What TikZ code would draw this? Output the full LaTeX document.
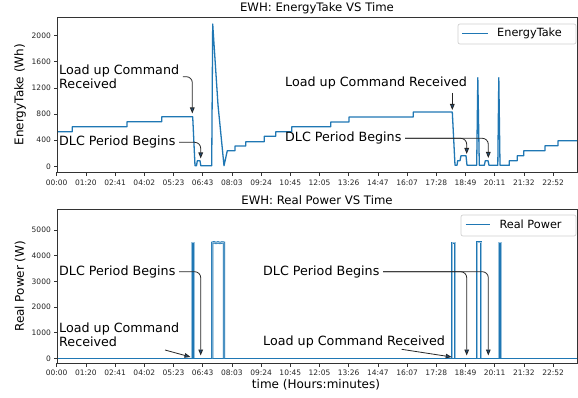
\documentclass[tikz,border=0pt]{standalone}
\usepackage{fontspec}
\setmainfont{DejaVu Sans}
\usetikzlibrary{arrows.meta}
\definecolor{c0}{HTML}{1F77B4}
\definecolor{arrfill}{HTML}{1F4E79}
\begin{document}
\begin{tikzpicture}[x=1pt,y=-1pt,
  ann/.style={font=\fontsize{12.7}{13.5}\selectfont, inner sep=0pt, anchor=west, align=left},
  ticklab/.style={font=\fontsize{7.5}{9}\selectfont, inner sep=0pt, text=black!85},
  ttl/.style={font=\fontsize{11.7}{13}\selectfont, inner sep=0pt},
  axlab/.style={font=\fontsize{12}{14}\selectfont, inner sep=0pt},
  leglab/.style={font=\fontsize{11.3}{13}\selectfont, inner sep=0pt, anchor=west},
  frame/.style={draw=black!80, line width=0.8pt},
  tickmark/.style={draw=black!80, line width=0.7pt},
  curve/.style={draw=c0, line width=1.3pt, line join=round},
  pulse/.style={draw=c0, line width=0.75pt, double=c0!45, double distance=0.8pt, line join=miter},
  legbox/.style={draw=black!18, fill=white, rounded corners=2pt, line width=0.7pt},
  arr/.style={draw=black!85, line width=0.8pt, rounded corners=6pt, -{Triangle[length=6pt,width=4.6pt,fill=arrfill]}},
  sarr/.style={draw=black!85, line width=0.8pt, -{Triangle[length=6pt,width=4.6pt,fill=arrfill]}}
]
\useasboundingbox (0,0) rectangle (578,398);
\fill[white] (0,0) rectangle (578,398);

% ===== Top axes =====
\draw[curve] (57,131.7) -- (72.3,131.7) -- (72.3,126.7) -- (127,126.7) -- (127,121.7)
 -- (161.7,121.7) -- (161.7,116.7) -- (192.7,116.7) -- (195,165.7) -- (196.5,165.7)
 -- (197.3,160.7) -- (200,160.7) -- (200.8,165.7) -- (211.7,165.7) -- (212.7,24)
 -- (218,105) -- (224,165.7) -- (227.3,150.7) -- (235,150.7) -- (235,146) -- (245.7,146)
 -- (245.7,141.7) -- (264.3,141.7) -- (264.3,136.3) -- (275.7,136.3) -- (275.7,131.7)
 -- (291.7,131.7) -- (291.7,126.7) -- (330.7,126.7) -- (330.7,122) -- (349,122) -- (349,117)
 -- (413.3,117) -- (413.3,112) -- (452.3,112) -- (455,165.3) -- (457,165.3) -- (457.7,160.7)
 -- (460,160.7) -- (461,155.7) -- (466,155.7) -- (467,165.3) -- (476.7,165.3) -- (477.8,77.7)
 -- (479.3,165.3) -- (484.3,165.3) -- (485.3,160.7) -- (488,160.7) -- (489,165.3)
 -- (497.8,165.3) -- (498.8,77.7) -- (500,165.3) -- (509.3,165.3) -- (509.3,160.7)
 -- (517.3,160.7) -- (517.3,155.7) -- (523.7,155.7) -- (523.7,150.7) -- (545,150.7)
 -- (545,145.7) -- (558,145.7) -- (558,140.7) -- (577,140.7);
\draw[frame] (57,17.3) rectangle (577,172.3);

\foreach \l [count=\i from 0] in {00:00,01:20,02:41,04:02,05:23,06:43,08:03,09:24,10:45,12:05,13:26,14:47,16:07,17:28,18:49,20:11,21:32,22:52}{
  \draw[tickmark] ({56.7+29.2*\i},172.3) -- ({56.7+29.2*\i},175.8);
  \node[ticklab] (xa\i) at ({56.7+29.2*\i},182.3) {\l};
  \draw[tickmark] ({56.7+29.2*\i},363.3) -- ({56.7+29.2*\i},366.8);
  \node[ticklab] (xb\i) at ({56.7+29.2*\i},372.7) {\l};
}
\foreach \v in {0,400,800,1200,1600,2000}{
  \draw[tickmark] (57,{166.3-\v*0.0653}) -- (53.5,{166.3-\v*0.0653});
  \node[ticklab, anchor=east] (ya\v) at (51,{166.3-\v*0.0653}) {\v};
}
\node[ttl] (t1) at (317,8.5) {EWH: EnergyTake VS Time};
\node[axlab, rotate=90] (yl1) at (20,94.7) {EnergyTake (Wh)};

% legend top
\draw[legbox] (458,24) rectangle (576,44);
\coordinate (lg1a) at (462,33.5);
\coordinate (lg1b) at (488,33.5);
\draw[draw=c0, line width=1.3pt] (lg1a) -- (lg1b);
\node[leglab] (lt1) at (497,33.5) {EnergyTake};

% annotations top
\node[ann] (lucTL) at (59,76.7) {Load up Command\\Received};
\coordinate (tipTL) at (192.3,113.5);
\draw[arr] ([xshift=3.5pt]lucTL.east) -| (tipTL);

\node[ann] (dlcTL) at (59,142.3) {DLC Period Begins};
\coordinate (tipTL2) at (200.7,158.5);
\draw[arr] ([xshift=3.5pt]dlcTL.east) -| (tipTL2);

\node[ann] (lucTR) at (285,83.3) {Load up Command Received};
\coordinate (srcTR) at (452.3,93);
\coordinate (tipTR) at (452.3,110);
\draw[sarr] (srcTR) -- (tipTR);

\node[ann] (dlcTR) at (285,138.3) {DLC Period Begins};
\coordinate (tipTR2) at (466.7,154);
\coordinate (tipTR3) at (488.3,158);
\draw[arr] ([xshift=3.5pt]dlcTR.east) -| (tipTR2);
\draw[arr] ([xshift=3.5pt]dlcTR.east) -| (tipTR3);

% ===== Bottom axes =====
\draw[curve] (57,358.3) -- (577,358.3);
\draw[pulse] (191.7,358.3) -- (191.7,242.7) -- (194.3,242.7) -- (194.3,358.3);
\draw[pulse] (212.3,358.3) -- (212.3,242.7) -- (214,242.2) -- (216,243) -- (218,242.3) -- (220,243) -- (222,242.4) -- (224,242.7) -- (224,358.3);
\draw[pulse] (452,358.3) -- (452,242.7) -- (455.3,242.7) -- (455.3,358.3);
\draw[pulse] (477.3,358.3) -- (477.3,242.2) -- (481,242.2) -- (481,358.3);
\draw[pulse] (498.7,358.3) -- (498.7,242.7) -- (501.3,242.7) -- (501.3,358.3);
\draw[frame] (57,209.3) rectangle (577,363.3);

\foreach \v in {0,1000,2000,3000,4000,5000}{
  \draw[tickmark] (57,{358.3-\v*0.02567}) -- (53.5,{358.3-\v*0.02567});
  \node[ticklab, anchor=east] (yb\v) at (51,{358.3-\v*0.02567}) {\v};
}
\node[ttl] (t2) at (317,200) {EWH: Real Power VS Time};
\node[axlab, rotate=90] (yl2) at (20,286.3) {Real Power (W)};
\node[axlab] (xl) at (316,385) {time (Hours:minutes)};

% legend bottom
\draw[legbox] (461,215) rectangle (576,236);
\coordinate (lg2a) at (465.7,224.5);
\coordinate (lg2b) at (490,224.5);
\draw[draw=c0, line width=1.3pt] (lg2a) -- (lg2b);
\node[leglab] (lt2) at (499.3,224.5) {Real Power};

% annotations bottom
\node[ann] (dlcBL) at (59,271.7) {DLC Period Begins};
\coordinate (tipBL) at (200.7,355.5);
\draw[arr] ([xshift=3.5pt]dlcBL.east) -| (tipBL);

\node[ann] (lucBL) at (59,334.7) {Load up Command\\Received};
\coordinate (srcBL) at (165,350);
\coordinate (tipBL2) at (190.5,357);
\draw[sarr] (srcBL) -- (tipBL2);

\node[ann] (dlcBR) at (263,271.7) {DLC Period Begins};
\coordinate (tipBR) at (466.7,355.5);
\coordinate (tipBR2) at (488.3,355.5);
\draw[arr] ([xshift=3.5pt]dlcBR.east) -| (tipBR);
\draw[arr] ([xshift=3.5pt]dlcBR.east) -| (tipBR2);

\node[ann] (lucBR) at (263,341.7) {Load up Command Received};
\coordinate (srcBR) at (401.7,349.3);
\coordinate (tipBR3) at (451.7,357);
\draw[sarr] (srcBR) -- (tipBR3);
\end{tikzpicture}
\end{document}
